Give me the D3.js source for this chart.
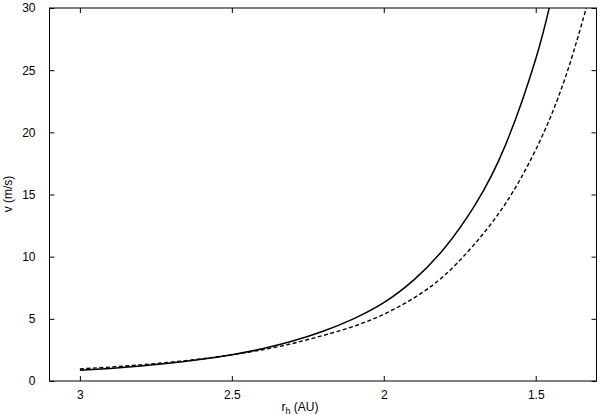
<!DOCTYPE html>
<html><head><meta charset="utf-8">
<script src="https://cdn.jsdelivr.net/npm/d3@7/dist/d3.min.js"></script>
<style>body{margin:0;background:#fff}svg{display:block}text{font-family:"Liberation Sans",Arial,sans-serif}</style>
</head><body>
<script>
const solidR = [3.0, 2.9, 2.8, 2.7, 2.6, 2.5, 2.4, 2.3, 2.2, 2.1, 2.0, 1.9, 1.8, 1.7, 1.6, 1.5, 1.45];
const solidV = [0.86, 1.01, 1.20, 1.44, 1.74, 2.115, 2.59, 3.21, 4.0, 5.0, 6.3, 8.15, 10.7, 14.15, 18.95, 25.9, 30.6];
const dashR = [3.0, 2.9, 2.8, 2.7, 2.6, 2.5, 2.4, 2.3, 2.2, 2.1, 2.0, 1.9, 1.8, 1.7, 1.6, 1.5, 1.4, 1.3];
const dashV = [0.97, 1.12, 1.30, 1.52, 1.78, 2.11, 2.51, 3.02, 3.66, 4.39, 5.37, 6.69, 8.50, 11.05, 14.25, 18.60, 24.6, 33.0];
const xTicks = [3, 2.5, 2, 1.5];
const xTickLabels = ["3", "2.5", "2", "1.5"];
const yTicks = [0, 5, 10, 15, 20, 25, 30];

const W = 600, H = 419;
const m = {l: 49.5, r: 3.5, t: 8, b: 38};
const svg = d3.select("body").append("svg").attr("width", W).attr("height", H);
const x = d3.scaleLinear().domain([3.1, 1.3]).range([m.l, W - m.r]);
const y = d3.scaleLinear().domain([0, 30]).range([H - m.b, m.t]);

svg.append("clipPath").attr("id", "c").append("rect")
  .attr("x", m.l).attr("y", m.t).attr("width", W - m.r - m.l).attr("height", H - m.b - m.t);

const fs = 12;
const gx = svg.append("g").attr("transform", `translate(0,${H - m.b})`)
  .call(d3.axisBottom(x).tickValues(xTicks).tickFormat((d,i)=>xTickLabels[i]).tickSize(-5).tickPadding(9));
const gxt = svg.append("g").attr("transform", `translate(0,${m.t})`)
  .call(d3.axisTop(x).tickValues(xTicks).tickFormat("").tickSize(-5));
const gy = svg.append("g").attr("transform", `translate(${m.l},0)`)
  .call(d3.axisLeft(y).tickValues(yTicks).tickSize(-5).tickPadding(14));
const gyr = svg.append("g").attr("transform", `translate(${W - m.r},0)`)
  .call(d3.axisRight(y).tickValues(yTicks).tickFormat("").tickSize(-5));
[gx, gxt, gy, gyr].forEach(g => {
  g.select(".domain").remove();
  g.selectAll("line").attr("stroke", "#000").attr("stroke-width", 1);
  g.selectAll("text").attr("font-size", fs).attr("fill", "#000").attr("font-family", "Liberation Sans, Arial, sans-serif");
});
svg.append("rect").attr("x", m.l).attr("y", m.t).attr("width", W - m.r - m.l).attr("height", H - m.b - m.t)
  .attr("fill", "none").attr("stroke", "#000").attr("stroke-width", 1);

const line = d3.line().x(d => x(d[0])).y(d => y(d[1])).curve(d3.curveNatural);
const gc = svg.append("g").attr("clip-path", "url(#c)");
gc.append("path").datum(solidR.map((r,i)=>[r, solidV[i]]))
  .attr("d", line).attr("fill", "none").attr("stroke", "#000").attr("stroke-width", 1.5);
gc.append("path").datum(dashR.map((r,i)=>[r, dashV[i]]))
  .attr("d", line).attr("fill", "none").attr("stroke", "#000").attr("stroke-width", 1.4).attr("stroke-dasharray", "4,2.5");

const xt = svg.append("text").attr("x", 300).attr("y", 411).attr("text-anchor", "middle").attr("font-size", fs);
xt.append("tspan").text("r");
xt.append("tspan").attr("font-size", 9).attr("dy", 3).text("h");
xt.append("tspan").attr("dy", -3).text(" (AU)");
svg.append("text").attr("transform", "translate(12,194) rotate(-90)").attr("text-anchor", "middle")
  .attr("font-size", fs).text("v (m/s)");
</script>
</body></html>
